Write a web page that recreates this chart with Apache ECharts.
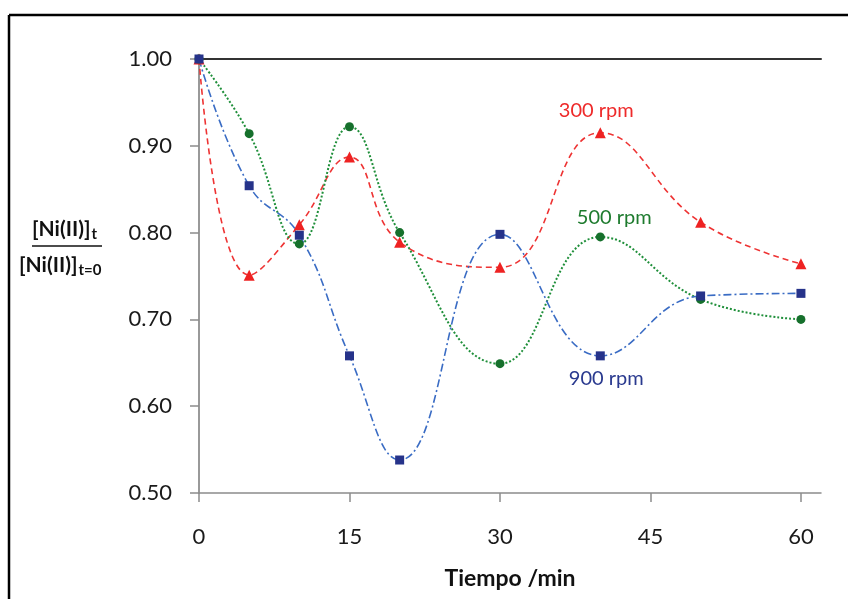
<!DOCTYPE html>
<html>
<head>
<meta charset="utf-8">
<script src="https://cdn.jsdelivr.net/npm/echarts@6/dist/echarts.min.js"></script>
<style>html,body{margin:0;padding:0;background:#fff}#c{width:848px;height:599px}</style>
</head>
<body>
<div id="c"></div>
<script>
const times = [0, 5, 10, 15, 20, 30, 40, 50, 60];
const rpm300 = [1.00, 0.751, 0.809, 0.887, 0.789, 0.760, 0.915, 0.812, 0.764];
const rpm500 = [1.00, 0.914, 0.787, 0.922, 0.800, 0.649, 0.795, 0.723, 0.700];
const rpm900 = [1.00, 0.854, 0.797, 0.658, 0.538, 0.798, 0.658, 0.727, 0.730];
const xTicks = [0, 15, 30, 45, 60];
const yTicks = [0.50, 0.60, 0.70, 0.80, 0.90, 1.00];
const seriesNames = ['300 rpm', '500 rpm', '900 rpm'];
const labelAt = 40;

const FONT = 'Lato, "Open Sans", sans-serif';
function pairs(vals, lbl) {
  return times.map((t, i) => {
    const d = { value: [t, vals[i]] };
    if (t === labelAt) d.label = lbl;
    return d;
  });
}
const chart = echarts.init(document.getElementById('c'), null, { renderer: 'canvas' });
chart.setOption({
  animation: false,
  backgroundColor: '#fff',
  grid: { left: 199, right: 27, top: 59, bottom: 106, containLabel: false, outerBoundsMode: 'none', show: false },
  xAxis: [{
    type: 'value', min: 0, max: 62, interval: 15,
    axisLine: { show: true, onZero: false, lineStyle: { color: '#8c8c8c', width: 1.5 } },
    axisTick: { show: true, inside: false, length: 9, customValues: xTicks, lineStyle: { color: '#8c8c8c', width: 1.5 } },
    axisLabel: { customValues: xTicks, margin: 33, fontSize: 22, color: '#1a1a1a', fontFamily: FONT },
    splitLine: { show: false },
    name: 'Tiempo /min', nameLocation: 'middle', nameGap: 74,
    nameTextStyle: { fontSize: 23, fontWeight: 'bold', color: '#111', fontFamily: FONT }
  }, {
    type: 'value', position: 'top', min: 0, max: 62,
    axisLine: { show: true, lineStyle: { color: '#333', width: 2 } },
    axisTick: { show: false }, axisLabel: { show: false }, splitLine: { show: false }
  }],
  yAxis: [{
    type: 'value', min: 0.5, max: 1.0, interval: 0.1,
    axisLine: { show: true, onZero: false, lineStyle: { color: '#8c8c8c', width: 1.5 } },
    axisTick: { show: true, inside: false, length: 9, lineStyle: { color: '#8c8c8c', width: 1.5 } },
    axisLabel: { margin: 27, fontSize: 22, color: '#1a1a1a', fontFamily: FONT, formatter: v => v.toFixed(2) },
    splitLine: { show: false }
  }, {
    type: 'value', position: 'right', min: 0.5, max: 1.0,
    axisLine: { show: true, lineStyle: { color: '#999', width: 2 } },
    axisTick: { show: false }, axisLabel: { show: false }, splitLine: { show: false }
  }],
  series: [{
    name: seriesNames[0], type: 'line', smooth: 0.45,
    data: pairs(rpm300, { show: true, position: 'top', distance: 7, offset: [-4, 0], formatter: seriesNames[0], color: '#ee2a2a', fontSize: 20, fontFamily: FONT }),
    symbol: 'triangle', symbolSize: 11,
    itemStyle: { color: '#ee2222' },
    lineStyle: { color: '#ee3333', width: 1.6, type: [6, 4] }
  }, {
    name: seriesNames[1], type: 'line', smooth: 0.45,
    data: pairs(rpm500, { show: true, position: 'top', distance: 5, offset: [14, 0], formatter: seriesNames[1], color: '#1e7b2e', fontSize: 20, fontFamily: FONT }),
    symbol: 'circle', symbolSize: 9,
    itemStyle: { color: '#16702c' },
    lineStyle: { color: '#1f8f3a', width: 2, type: [2, 2] }
  }, {
    name: seriesNames[2], type: 'line', smooth: 0.45,
    data: pairs(rpm900, { show: true, position: 'bottom', distance: 8, offset: [6, 0], formatter: seriesNames[2], color: '#2a3a8f', fontSize: 20, fontFamily: FONT }),
    symbol: 'rect', symbolSize: 9,
    itemStyle: { color: '#26338a' },
    lineStyle: { color: '#3a6cc4', width: 1.6, type: [8, 3, 2, 3] }
  }],
  graphic: [
    { type: 'line', shape: { x1: 9, y1: 15, x2: 848, y2: 15 }, style: { stroke: '#000', lineWidth: 2.5 } },
    { type: 'line', shape: { x1: 9, y1: 15, x2: 9, y2: 599 }, style: { stroke: '#000', lineWidth: 2.5 } },
    { type: 'text', left: 32, top: 219, style: { text: '{a|[Ni(II)]}{s|t}', rich: {
      a: { fontSize: 21, fontWeight: 'bold', fill: '#111', fontFamily: FONT },
      s: { fontSize: 15, fontWeight: 'bold', fill: '#111', fontFamily: FONT, padding: [10, 0, 0, 1] } } } },
    { type: 'line', shape: { x1: 32, y1: 246, x2: 102, y2: 246 }, style: { stroke: '#111', lineWidth: 1.5 } },
    { type: 'text', left: 19, top: 255, style: { text: '{a|[Ni(II)]}{s|t=0}', rich: {
      a: { fontSize: 21, fontWeight: 'bold', fill: '#111', fontFamily: FONT },
      s: { fontSize: 15, fontWeight: 'bold', fill: '#111', fontFamily: FONT, padding: [10, 0, 0, 1] } } } }
  ]
});
</script>
</body>
</html>
